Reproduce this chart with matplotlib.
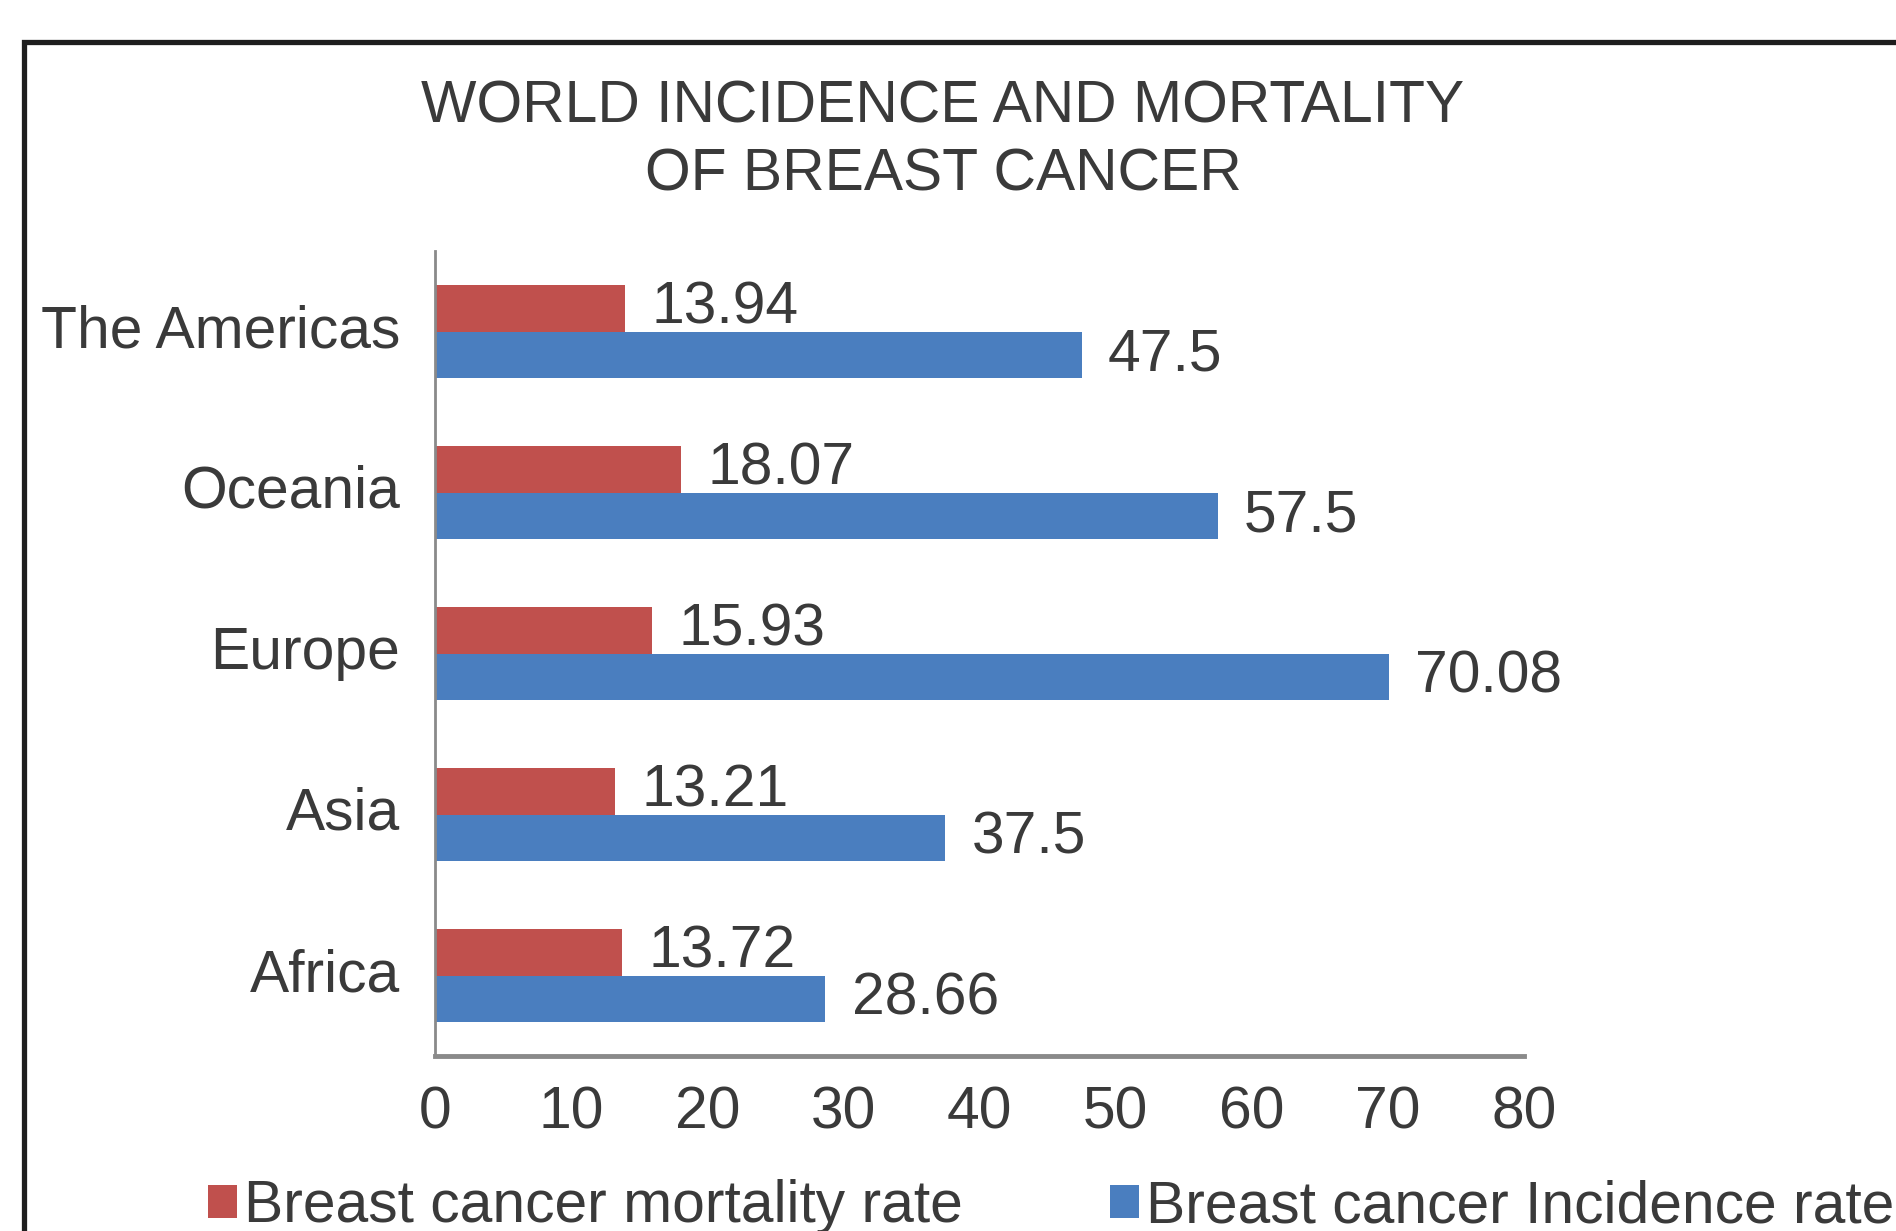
import matplotlib
matplotlib.use("Agg")
import matplotlib.pyplot as plt
import matplotlib.patches as mpatches
import matplotlib.transforms as mtransforms
import numpy as np

categories = ["Africa", "Asia", "Europe", "Oceania", "The Americas"]
mortality = [13.72, 13.21, 15.93, 18.07, 13.94]
incidence = [28.66, 37.5, 70.08, 57.5, 47.5]
series_names = ["Breast cancer mortality rate", "Breast cancer Incidence rate"]
xticks = [0, 10, 20, 30, 40, 50, 60, 70, 80]
title_lines = ["WORLD INCIDENCE AND MORTALITY", "OF BREAST CANCER"]

RED = "#C0504D"
BLUE = "#4A7EBF"
TXT = "#3a3a3a"
FS = 42.3

plt.rcParams['font.family'] = ['Liberation Sans', 'DejaVu Sans']

W, H = 1896, 1231
fig = plt.figure(figsize=(W / 100, H / 100), dpi=100)
fig.patch.set_facecolor("white")

# outer frame (cropped at right and bottom)
frame = mpatches.Rectangle((24 / W, -0.2), 1.5, 1.2 - 42 / H,
                           transform=fig.transFigure, fill=False,
                           edgecolor="#1e1e1e", linewidth=3.8, clip_on=False)
fig.patches.append(frame)

left, right = 435 / W, 1524 / W
top, bottom = 1 - 251 / H, 1 - 1056 / H
ax = fig.add_axes([left, bottom, right - left, top - bottom])

y = np.arange(len(categories))
h = 0.29
b1 = ax.barh(y + h / 2, mortality, height=h, color=RED, label=series_names[0])
b2 = ax.barh(y - h / 2, incidence, height=h, color=BLUE, label=series_names[1])

ax.bar_label(b1, labels=[f"{v:g}" for v in mortality], padding=19,
             fontsize=FS, color=TXT)
ax.bar_label(b2, labels=[f"{v:g}" for v in incidence], padding=19,
             fontsize=FS, color=TXT)

ax.set_xlim(0, 80)
ax.set_ylim(-0.5, len(categories) - 0.5)
ax.set_xticks(xticks)
ax.set_xticklabels([str(t) for t in xticks], fontsize=FS, color=TXT)
ax.set_yticks(y)
ax.set_yticklabels(categories, fontsize=FS, color=TXT)
ax.tick_params(axis="x", length=0, pad=21)
ax.tick_params(axis="y", length=0, pad=25)

offset = mtransforms.ScaledTranslation(0, 0.06, fig.dpi_scale_trans)
for lbl in ax.get_yticklabels():
    lbl.set_transform(lbl.get_transform() + offset)

for s in ["top", "right"]:
    ax.spines[s].set_visible(False)
ax.spines["left"].set_color("#8a8a8a")
ax.spines["left"].set_linewidth(2)
ax.spines["bottom"].set_color("#8a8a8a")
ax.spines["bottom"].set_linewidth(3.5)
ax.set_facecolor("white")

fig.text(943 / W, 1 - 107 / H, title_lines[0], ha="center", va="center",
         fontsize=FS, color=TXT)
fig.text(943 / W, 1 - 175 / H, title_lines[1], ha="center", va="center",
         fontsize=FS, color=TXT)

fig.legend(handles=[b1, b2], labels=series_names, loc="center left",
           bbox_to_anchor=(208 / W, 1 - 1207 / H), ncol=2, frameon=False,
           fontsize=FS, labelcolor=TXT, handlelength=0.5, handleheight=0.5,
           handletextpad=0.12, columnspacing=2.5, borderpad=0, borderaxespad=0)

fig.savefig("out.png", dpi=100, facecolor="white")
